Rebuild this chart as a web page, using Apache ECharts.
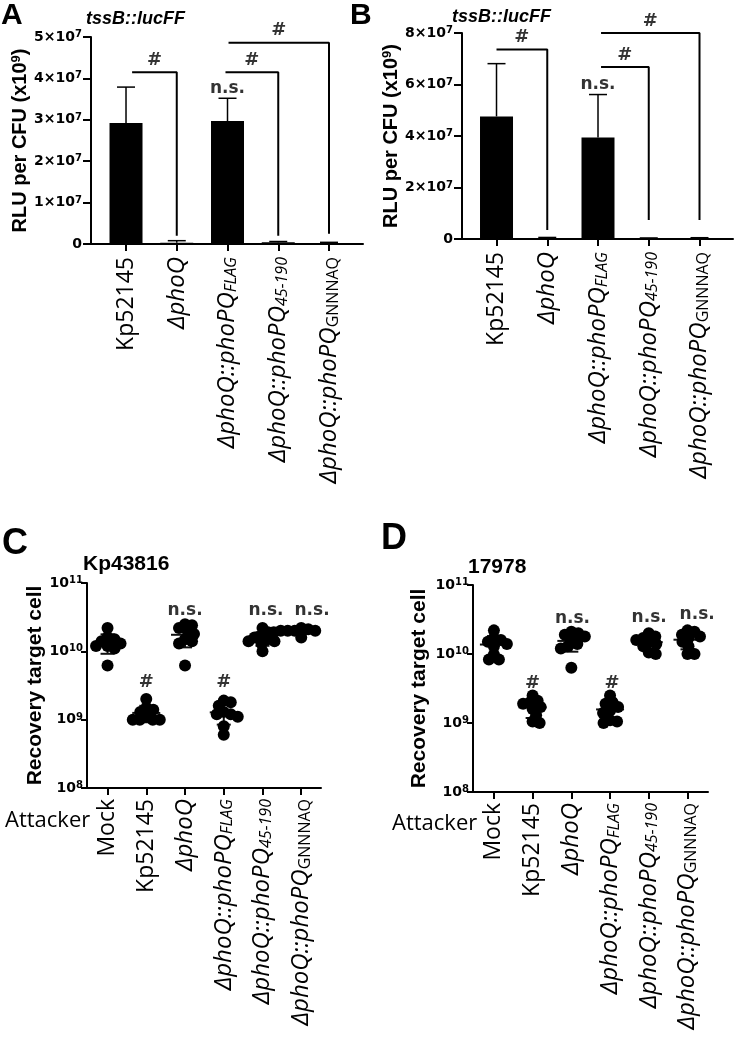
<!DOCTYPE html>
<html><head><meta charset="utf-8">
<script src="https://cdn.jsdelivr.net/npm/echarts@6/dist/echarts.min.js"></script>
<style>html,body{margin:0;padding:0;background:#fff}#c{width:734px;height:1044px}</style>
</head><body><div id="c"></div>
<script>
// ---------- categories ----------
const strainMain = ['Kp52145', 'ΔphoQ', 'ΔphoQ::phoPQ', 'ΔphoQ::phoPQ', 'ΔphoQ::phoPQ'];
const strainSub = ['', '', 'FLAG', '45-190', 'GNNNAQ'];
const strainItalic = [false, true, true, true, true];
const subItalic = [false, false, true, true, false];
const attackerMain = ['Mock'].concat(strainMain);
const attackerSub = [''].concat(strainSub);
const attackerItalic = [false].concat(strainItalic);
const attackerSubItalic = [false].concat(subItalic);

// ---------- panel A / B : RLU per CFU (mean, SD) ----------
const rluA_mean = [2.92e7, 0.03e7, 2.97e7, 0.04e7, 0.02e7];
const rluA_sd   = [0.87e7, 0.05e7, 0.55e7, 0.02e7, 0.02e7];
const rluB_mean = [4.76e7, 0.04e7, 3.94e7, 0.03e7, 0.03e7];
const rluB_sd   = [2.05e7, 0.02e7, 1.67e7, 0.01e7, 0.02e7];

// significance brackets (category from/to, bracket height, foot height)
const bracketA_from = [0.12, 1.96, 2.02];
const bracketA_to   = [1, 3, 4];
const bracketA_top  = [4.15e7, 4.15e7, 4.86e7];
const bracketA_foot = [0.2e7, 0.2e7, 0.25e7];
const bracketB_from = [0, 2.06, 2.06];
const bracketB_to   = [1, 3, 4];
const bracketB_top  = [7.36e7, 6.68e7, 8.0e7];
const bracketB_foot = [0.35e7, 0.74e7, 0.74e7];
const nsBarIndexAB = [2];

// ---------- panel C : target Kp43816 ----------
const recC_Mock    = [2.2e10, 1.6e10, 1.5e10, 1.4e10, 1.3e10, 1.2e10, 1.2e10, 1.1e10, 6.2e9];
const recC_Kp52145 = [2.0e9, 1.5e9, 1.4e9, 1.3e9, 1.1e9, 1.0e9, 1.0e9, 1.0e9, 1.0e9];
const recC_phoQ    = [2.5e10, 2.4e10, 2.2e10, 2.0e10, 1.8e10, 1.5e10, 1.4e10, 1.3e10, 6.2e9];
const recC_FLAG    = [1.9e9, 1.8e9, 1.6e9, 1.3e9, 1.2e9, 1.2e9, 1.1e9, 8e8, 6e8];
const recC_45190   = [2.2e10, 1.9e10, 1.7e10, 1.6e10, 1.5e10, 1.4e10, 1.4e10, 1.3e10, 1.0e10];
const recC_GNNNAQ  = [2.2e10, 2.1e10, 2.0e10, 2.0e10, 2.0e10, 2.0e10, 1.9e10, 1.9e10, 1.6e10];
// ---------- panel D : target 17978 ----------
const recD_Mock    = [2.2e10, 1.7e10, 1.6e10, 1.5e10, 1.4e10, 1.3e10, 9.8e9, 8.3e9, 8.3e9];
const recD_Kp52145 = [2.5e9, 2.1e9, 2.0e9, 1.9e9, 1.7e9, 1.6e9, 1.3e9, 1.05e9, 1.0e9];
const recD_phoQ    = [2.1e10, 2.0e10, 1.9e10, 1.8e10, 1.6e10, 1.4e10, 1.3e10, 1.2e10, 6.3e9];
const recD_FLAG    = [2.5e9, 2.0e9, 1.9e9, 1.7e9, 1.5e9, 1.4e9, 1.1e9, 1.05e9, 1.0e9];
const recD_45190   = [2.0e10, 1.8e10, 1.7e10, 1.6e10, 1.5e10, 1.4e10, 1.3e10, 1.05e10, 1.0e10];
const recD_GNNNAQ  = [2.2e10, 2.1e10, 1.9e10, 1.8e10, 1.7e10, 1.5e10, 1.3e10, 1.0e10, 1.0e10];
const recC = [recC_Mock, recC_Kp52145, recC_phoQ, recC_FLAG, recC_45190, recC_GNNNAQ];
const recD = [recD_Mock, recD_Kp52145, recD_phoQ, recD_FLAG, recD_45190, recD_GNNNAQ];

// annotations (category position, value of label centre)
const nsC_x = [2, 4.09, 5.28];   const nsC_y = [3.9e10, 3.9e10, 3.9e10];
const hashC_x = [1, 3];          const hashC_y = [3.5e9, 3.5e9];
const nsD_x = [2.03, 4.01, 5.25]; const nsD_y = [3.3e10, 3.4e10, 3.7e10];
const hashD_x = [1, 3.05];        const hashD_y = [3.8e9, 3.8e9];

// ---------- helpers ----------
const BLACK = '#000';
const labFont = 'Open Sans';
const numFont = 'DejaVu Sans';
const boldFont = 'Liberation Sans';
const letterFont = "'Liberation Sans Narrow', 'Liberation Sans'";

function catLabel(mainArr, subArr, itArr, subItArr) {
  return function (v) {
    const k = Math.round(v);
    let s = '{' + (itArr[k] ? 'i' : 'n') + '|' + mainArr[k] + '}';
    if (subArr[k]) s += '{' + (subItArr[k] ? 'si' : 'sn') + '|' + subArr[k] + '}';
    return s;
  };
}
const catRich = {
  n:  {fontFamily: labFont, fontSize: 23, color: BLACK, lineHeight: 24},
  i:  {fontFamily: labFont, fontSize: 24, fontStyle: 'italic', color: BLACK, lineHeight: 24},
  si: {fontFamily: labFont, fontSize: 16, fontStyle: 'italic', color: BLACK, lineHeight: 8, verticalAlign: 'bottom'},
  sn: {fontFamily: labFont, fontSize: 16, color: BLACK, lineHeight: 8, verticalAlign: 'bottom'}
};
const numRich = {
  b:   {fontFamily: numFont, fontWeight: 'bold', fontSize: 14, color: BLACK, lineHeight: 15},
  sup: {fontFamily: numFont, fontWeight: 'bold', fontSize: 10, color: BLACK, lineHeight: 6, verticalAlign: 'top'}
};
const axisLineStyle = {color: BLACK, width: 2};

function sciFormatter(exp) {
  return function (v) {
    if (v === 0) return '{b|0}';
    return '{b|' + Math.round(v / Math.pow(10, exp)) + '×10}{sup|' + exp + '}';
  };
}
function logFormatter(v) {
  return '{b|10}{sup|' + Math.round(Math.log10(v)) + '}';
}

function catXAxis(gi, min, max, n, mainArr, subArr, itArr, subItArr, margin) {
  const vals = [];
  for (let i = 0; i < n; i++) vals.push(i);
  return {
    gridIndex: gi, type: 'value', min: min, max: max,
    axisLine: {show: true, onZero: false, lineStyle: axisLineStyle},
    axisTick: {show: true, customValues: vals, length: 7, lineStyle: axisLineStyle},
    axisLabel: {customValues: vals, rotate: 90, margin: margin, formatter: catLabel(mainArr, subArr, itArr, subItArr), rich: catRich},
    splitLine: {show: false}
  };
}

const nameStyleAB = {fontFamily: boldFont, fontWeight: 'bold', fontSize: 20, color: BLACK,
  rich: {sup: {fontFamily: boldFont, fontWeight: 'bold', fontSize: 13, color: BLACK, lineHeight: 6, verticalAlign: 'top'}}};
const nameStyleCD = {fontFamily: boldFont, fontWeight: 'bold', fontSize: 21, color: BLACK};

function errRender(params, api) {
  const x = api.value(0), m = api.value(1), s = api.value(2);
  const p0 = api.coord([x, m]), p1 = api.coord([x, m + s]);
  return {type: 'group', children: [
    {type: 'line', shape: {x1: p0[0], y1: p0[1], x2: p1[0], y2: p1[1]}, style: {stroke: BLACK, lineWidth: 1.5}},
    {type: 'line', shape: {x1: p1[0] - 9, y1: p1[1], x2: p1[0] + 9, y2: p1[1]}, style: {stroke: BLACK, lineWidth: 1.5}}
  ]};
}
function meanSdRender(params, api) {
  const x = api.value(0), m = api.value(1), s = api.value(2);
  const pm = api.coord([x, m]), pu = api.coord([x, m + s]), pl = api.coord([x, Math.max(m - s, 1.1e8)]);
  const st = {stroke: '#111', lineWidth: 2};
  return {type: 'group', children: [
    {type: 'line', shape: {x1: pm[0] - 14, y1: pm[1], x2: pm[0] + 14, y2: pm[1]}, style: st},
    {type: 'line', shape: {x1: pu[0], y1: pu[1], x2: pl[0], y2: pl[1]}, style: st},
    {type: 'line', shape: {x1: pu[0] - 7, y1: pu[1], x2: pu[0] + 7, y2: pu[1]}, style: st},
    {type: 'line', shape: {x1: pl[0] - 7, y1: pl[1], x2: pl[0] + 7, y2: pl[1]}, style: st}
  ]};
}
function meanSd(arr) {
  const m = arr.reduce((a, b) => a + b, 0) / arr.length;
  const v = arr.reduce((a, b) => a + (b - m) * (b - m), 0) / (arr.length - 1);
  return [m, Math.sqrt(v)];
}

const signifLabel = {fontFamily: numFont, fontWeight: 'bold', fontSize: 17, color: BLACK};

function barSeries(gi, means, sds) {
  const out = [];
  out.push({type: 'bar', xAxisIndex: gi, yAxisIndex: gi, barWidth: 33, itemStyle: {color: BLACK},
    data: means.map((m, i) => [i, m]), z: 2});
  out.push({type: 'custom', xAxisIndex: gi, yAxisIndex: gi, renderItem: errRender, z: 3,
    data: means.map((m, i) => [i, m, sds[i]])});
  out.push({type: 'scatter', xAxisIndex: gi, yAxisIndex: gi, symbolSize: 0, z: 5,
    data: nsBarIndexAB.map(i => [i, means[i] + sds[i]]),
    label: {show: true, position: 'top', distance: 1, formatter: 'n.s.', ...signifLabel}});
  return out;
}
function bracketSeries(gi, from, to, top, foot) {
  const out = [];
  for (let k = 0; k < from.length; k++) {
    out.push({type: 'line', xAxisIndex: gi, yAxisIndex: gi, showSymbol: false, symbol: 'none', clip: false,
      lineStyle: {color: BLACK, width: 2}, z: 4,
      data: [[from[k], top[k]], [to[k], top[k]], [to[k], foot[k]]]});
  }
  out.push({type: 'scatter', xAxisIndex: gi, yAxisIndex: gi, symbolSize: 0, z: 5,
    data: from.map((f, k) => [(f + to[k]) / 2, top[k]]),
    label: {show: true, position: 'top', distance: 3, formatter: '#', ...signifLabel, fontSize: 18}});
  return out;
}
function dotSeries(gi, groups, jitter) {
  const out = [];
  out.push({type: 'custom', xAxisIndex: gi, yAxisIndex: gi, renderItem: meanSdRender, z: 2,
    data: groups.map((g, i) => { const ms = meanSd(g); return [i, ms[0], ms[1]]; })});
  const pts = [];
  groups.forEach((g, i) => g.forEach((v, j) => pts.push([i + (jitter ? jitter[i][j] : 0), v])));
  out.push({type: 'scatter', xAxisIndex: gi, yAxisIndex: gi, symbol: 'circle', symbolSize: 12,
    itemStyle: {color: BLACK, opacity: 1}, z: 3, data: pts});
  return out;
}
function annotSeries(gi, xs, ys, text) {
  return {type: 'scatter', xAxisIndex: gi, yAxisIndex: gi, symbolSize: 0, z: 5,
    data: xs.map((x, k) => [x, ys[k]]),
    label: {show: true, position: 'inside', formatter: text, ...signifLabel, fontSize: text === '#' ? 18 : 17}};
}

const titleStyle = (size, extra) => Object.assign({fontFamily: boldFont, fontWeight: 'bold', fontSize: size, color: BLACK}, extra || {});
const letterStyle = (size) => ({fontFamily: letterFont, fontWeight: 'bold', fontSize: size, color: BLACK});

function yAxisLin(gi, max, interval, gap) {
  return {gridIndex: gi, type: 'value', min: 0, max: max, interval: interval,
    axisLine: {show: true, onZero: false, lineStyle: axisLineStyle}, axisTick: {show: true, length: 8, lineStyle: axisLineStyle},
    axisLabel: {formatter: sciFormatter(7), rich: numRich, margin: 9}, splitLine: {show: false},
    name: 'RLU per CFU (x10{sup|9})', nameLocation: 'middle', nameGap: gap, nameTextStyle: nameStyleAB};
}
function yAxisLog(gi, gap) {
  return {gridIndex: gi, type: 'log', logBase: 10, min: 1e8, max: 1e11,
    axisLine: {show: true, onZero: false, lineStyle: axisLineStyle}, axisTick: {show: true, length: 6, lineStyle: axisLineStyle},
    minorTick: {show: false},
    axisLabel: {formatter: logFormatter, rich: numRich, margin: 4}, splitLine: {show: false},
    name: 'Recovery target cell', nameLocation: 'middle', nameGap: gap, nameTextStyle: nameStyleCD};
}

function buildOption(jitC, jitD) {
  return {
    animation: false,
    backgroundColor: '#fff',
    title: [
      {text: 'A', left: 1, top: 1, padding: 0, textStyle: letterStyle(30)},
      {text: 'B', left: 350, top: 1, padding: 0, textStyle: letterStyle(30)},
      {text: 'C', left: 2, top: 526, padding: 0, textStyle: letterStyle(36)},
      {text: 'D', left: 381, top: 521, padding: 0, textStyle: letterStyle(36)},
      {text: 'tssB::lucFF', left: 86, top: 10, padding: 0, textStyle: titleStyle(18, {fontStyle: 'italic'})},
      {text: 'tssB::lucFF', left: 452, top: 8, padding: 0, textStyle: titleStyle(18, {fontStyle: 'italic'})},
      {text: 'Kp43816', left: 83, top: 554, padding: 0, textStyle: titleStyle(21)},
      {text: '17978', left: 468, top: 557, padding: 0, textStyle: titleStyle(21)},
      {text: 'Attacker', left: 5, top: 810, padding: 0, textStyle: {fontFamily: labFont, fontSize: 22, fontWeight: 'normal', color: BLACK}},
      {text: 'Attacker', left: 392, top: 813, padding: 0, textStyle: {fontFamily: labFont, fontSize: 22, fontWeight: 'normal', color: BLACK}}
    ],
    grid: [
      {left: 91, top: 37, width: 272, height: 207},
      {left: 462, top: 33, width: 271, height: 206},
      {left: 87, top: 583, width: 234, height: 205},
      {left: 473, top: 585, width: 235, height: 207}
    ],
    xAxis: [
      catXAxis(0, -0.69, 4.67, 5, strainMain, strainSub, strainItalic, subItalic, 13),
      catXAxis(1, -0.68, 4.66, 5, strainMain, strainSub, strainItalic, subItalic, 13),
      catXAxis(2, -0.53, 5.51, 6, attackerMain, attackerSub, attackerItalic, attackerSubItalic, 11),
      catXAxis(3, -0.54, 5.53, 6, attackerMain, attackerSub, attackerItalic, attackerSubItalic, 11)
    ],
    yAxis: [
      yAxisLin(0, 5e7, 1e7, 58),
      yAxisLin(1, 8e7, 2e7, 53),
      yAxisLog(2, 40),
      yAxisLog(3, 43)
    ],
    series: [].concat(
      barSeries(0, rluA_mean, rluA_sd),
      bracketSeries(0, bracketA_from, bracketA_to, bracketA_top, bracketA_foot),
      barSeries(1, rluB_mean, rluB_sd),
      bracketSeries(1, bracketB_from, bracketB_to, bracketB_top, bracketB_foot),
      dotSeries(2, recC, jitC),
      annotSeries(2, nsC_x, nsC_y, 'n.s.'),
      annotSeries(2, hashC_x, hashC_y, '#'),
      dotSeries(3, recD, jitD),
      annotSeries(3, nsD_x, nsD_y, 'n.s.'),
      annotSeries(3, hashD_x, hashD_y, '#')
    )
  };
}

// beeswarm offsets computed from the chart's own scales
function swarm(chart, gi, groups) {
  const a = chart.convertToPixel({gridIndex: gi}, [0, 1e9]);
  const b = chart.convertToPixel({gridIndex: gi}, [1, 1e10]);
  const pxCat = b[0] - a[0];
  const minD = 7;
  return groups.map((g, i) => {
    const ys = g.map(v => chart.convertToPixel({gridIndex: gi}, [i, v])[1]);
    const order = ys.map((y, j) => j).sort((p, q) => ys[p] - ys[q]);
    const placed = [];
    const off = new Array(g.length).fill(0);
    order.forEach(j => {
      let dx = 0;
      for (let s = 0; s < 400; s++) {
        const cand = (s % 2 === 1 ? 1 : -1) * Math.ceil(s / 2) * 0.5;
        let ok = true;
        for (const p of placed) {
          const ddx = cand - p[0], ddy = ys[j] - p[1];
          if (ddx * ddx + ddy * ddy < minD * minD) { ok = false; break; }
        }
        if (ok) { dx = cand; break; }
      }
      placed.push([dx, ys[j]]);
      off[j] = dx / pxCat;
    });
    return off;
  });
}

const chart = echarts.init(document.getElementById('c'), null, {renderer: 'canvas'});
chart.setOption(buildOption(null, null));
const jitC = swarm(chart, 2, recC);
const jitD = swarm(chart, 3, recD);
chart.setOption(buildOption(jitC, jitD), true);
</script>
</body></html>
